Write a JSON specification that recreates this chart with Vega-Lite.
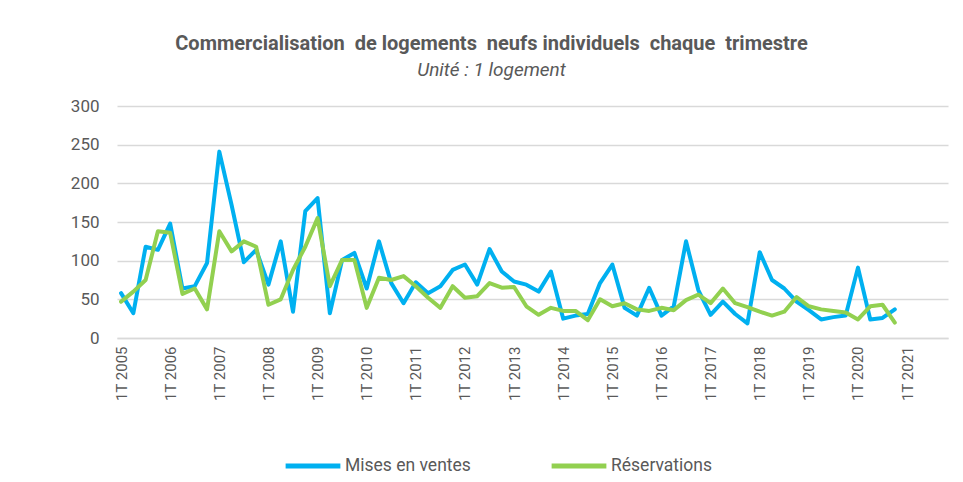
{
  "$schema": "https://vega.github.io/schema/vega-lite/v6.json",
  "autosize": {"type": "none"},
  "width": 831,
  "height": 232,
  "padding": {"left": 117, "top": 106, "right": 15, "bottom": 144},
  "background": "white",
  "config": {"view": {"stroke": null}},
  "title": {
    "text": "Commercialisation\u00a0 de logements\u00a0 neufs individuels\u00a0 chaque\u00a0 trimestre",
    "subtitle": "Unité : 1 logement",
    "anchor": "middle",
    "frame": "group",
    "dx": -41,
    "offset": 17,
    "font": "Roboto",
    "fontSize": 20,
    "fontWeight": "bold",
    "color": "#595959",
    "subtitleFont": "Roboto",
    "subtitleFontSize": 19,
    "subtitleFontStyle": "italic",
    "subtitleColor": "#595959",
    "subtitlePadding": 7
  },
  "data": {"values": [
    {"t": "1T 2005", "Mises en ventes": 58, "Réservations": 47},
    {"t": "2T 2005", "Mises en ventes": 32, "Réservations": 60},
    {"t": "3T 2005", "Mises en ventes": 118, "Réservations": 75},
    {"t": "4T 2005", "Mises en ventes": 114, "Réservations": 138},
    {"t": "1T 2006", "Mises en ventes": 148, "Réservations": 136},
    {"t": "2T 2006", "Mises en ventes": 64, "Réservations": 57},
    {"t": "3T 2006", "Mises en ventes": 67, "Réservations": 64},
    {"t": "4T 2006", "Mises en ventes": 97, "Réservations": 37},
    {"t": "1T 2007", "Mises en ventes": 241, "Réservations": 138},
    {"t": "2T 2007", "Mises en ventes": 172, "Réservations": 112},
    {"t": "3T 2007", "Mises en ventes": 98, "Réservations": 125},
    {"t": "4T 2007", "Mises en ventes": 114, "Réservations": 118},
    {"t": "1T 2008", "Mises en ventes": 69, "Réservations": 43},
    {"t": "2T 2008", "Mises en ventes": 125, "Réservations": 50},
    {"t": "3T 2008", "Mises en ventes": 34, "Réservations": 88},
    {"t": "4T 2008", "Mises en ventes": 164, "Réservations": 118},
    {"t": "1T 2009", "Mises en ventes": 181, "Réservations": 155},
    {"t": "2T 2009", "Mises en ventes": 32, "Réservations": 67},
    {"t": "3T 2009", "Mises en ventes": 101, "Réservations": 101},
    {"t": "4T 2009", "Mises en ventes": 110, "Réservations": 101},
    {"t": "1T 2010", "Mises en ventes": 64, "Réservations": 39},
    {"t": "2T 2010", "Mises en ventes": 125, "Réservations": 78},
    {"t": "3T 2010", "Mises en ventes": 71, "Réservations": 75},
    {"t": "4T 2010", "Mises en ventes": 45, "Réservations": 80},
    {"t": "1T 2011", "Mises en ventes": 72, "Réservations": 67},
    {"t": "2T 2011", "Mises en ventes": 58, "Réservations": 52},
    {"t": "3T 2011", "Mises en ventes": 67, "Réservations": 39},
    {"t": "4T 2011", "Mises en ventes": 88, "Réservations": 67},
    {"t": "1T 2012", "Mises en ventes": 95, "Réservations": 52},
    {"t": "2T 2012", "Mises en ventes": 69, "Réservations": 54},
    {"t": "3T 2012", "Mises en ventes": 115, "Réservations": 71},
    {"t": "4T 2012", "Mises en ventes": 86, "Réservations": 65},
    {"t": "1T 2013", "Mises en ventes": 73, "Réservations": 66},
    {"t": "2T 2013", "Mises en ventes": 69, "Réservations": 41},
    {"t": "3T 2013", "Mises en ventes": 60, "Réservations": 30},
    {"t": "4T 2013", "Mises en ventes": 86, "Réservations": 39},
    {"t": "1T 2014", "Mises en ventes": 25, "Réservations": 35},
    {"t": "2T 2014", "Mises en ventes": 29, "Réservations": 35},
    {"t": "3T 2014", "Mises en ventes": 31, "Réservations": 23},
    {"t": "4T 2014", "Mises en ventes": 71, "Réservations": 50},
    {"t": "1T 2015", "Mises en ventes": 95, "Réservations": 41},
    {"t": "2T 2015", "Mises en ventes": 39, "Réservations": 45},
    {"t": "3T 2015", "Mises en ventes": 29, "Réservations": 37},
    {"t": "4T 2015", "Mises en ventes": 65, "Réservations": 35},
    {"t": "1T 2016", "Mises en ventes": 29, "Réservations": 39},
    {"t": "2T 2016", "Mises en ventes": 41, "Réservations": 36},
    {"t": "3T 2016", "Mises en ventes": 125, "Réservations": 49},
    {"t": "4T 2016", "Mises en ventes": 62, "Réservations": 56},
    {"t": "1T 2017", "Mises en ventes": 30, "Réservations": 45},
    {"t": "2T 2017", "Mises en ventes": 47, "Réservations": 64},
    {"t": "3T 2017", "Mises en ventes": 31, "Réservations": 45},
    {"t": "4T 2017", "Mises en ventes": 19, "Réservations": 40},
    {"t": "1T 2018", "Mises en ventes": 111, "Réservations": 34},
    {"t": "2T 2018", "Mises en ventes": 75, "Réservations": 29},
    {"t": "3T 2018", "Mises en ventes": 64, "Réservations": 34},
    {"t": "4T 2018", "Mises en ventes": 47, "Réservations": 53},
    {"t": "1T 2019", "Mises en ventes": 36, "Réservations": 41},
    {"t": "2T 2019", "Mises en ventes": 24, "Réservations": 37},
    {"t": "3T 2019", "Mises en ventes": 27, "Réservations": 35},
    {"t": "4T 2019", "Mises en ventes": 29, "Réservations": 33},
    {"t": "1T 2020", "Mises en ventes": 91, "Réservations": 24},
    {"t": "2T 2020", "Mises en ventes": 24, "Réservations": 41},
    {"t": "3T 2020", "Mises en ventes": 26, "Réservations": 43},
    {"t": "4T 2020", "Mises en ventes": 37, "Réservations": 20}
  ]},
  "transform": [
    {"fold": ["Mises en ventes", "Réservations"], "as": ["serie", "valeur"]}
  ],
  "mark": {"type": "line", "strokeWidth": 4, "strokeJoin": "round", "strokeCap": "round"},
  "encoding": {
    "x": {
      "field": "t",
      "type": "ordinal",
      "sort": null,
      "scale": {
        "type": "point",
        "padding": 0.33,
        "domain": ["1T 2005","2T 2005","3T 2005","4T 2005","1T 2006","2T 2006","3T 2006","4T 2006","1T 2007","2T 2007","3T 2007","4T 2007","1T 2008","2T 2008","3T 2008","4T 2008","1T 2009","2T 2009","3T 2009","4T 2009","1T 2010","2T 2010","3T 2010","4T 2010","1T 2011","2T 2011","3T 2011","4T 2011","1T 2012","2T 2012","3T 2012","4T 2012","1T 2013","2T 2013","3T 2013","4T 2013","1T 2014","2T 2014","3T 2014","4T 2014","1T 2015","2T 2015","3T 2015","4T 2015","1T 2016","2T 2016","3T 2016","4T 2016","1T 2017","2T 2017","3T 2017","4T 2017","1T 2018","2T 2018","3T 2018","4T 2018","1T 2019","2T 2019","3T 2019","4T 2019","1T 2020","2T 2020","3T 2020","4T 2020","1T 2021","2T 2021","3T 2021","4T 2021"]
      },
      "axis": {
        "title": null,
        "labelExpr": "slice(datum.value, 0, 2) == '1T' ? datum.value : ''",
        "labelAngle": 270,
        "labelOverlap": false,
        "labelFont": "Roboto",
        "labelFontSize": 15,
        "labelColor": "#595959",
        "labelPadding": 8,
        "ticks": false,
        "grid": false,
        "domain": true,
        "domainColor": "#d9d9d9",
        "domainWidth": 1.5
      }
    },
    "y": {
      "field": "valeur",
      "type": "quantitative",
      "scale": {"domain": [0, 300], "nice": false},
      "axis": {
        "title": null,
        "values": [0, 50, 100, 150, 200, 250, 300],
        "labelFont": "Roboto",
        "labelFontSize": 17,
        "labelColor": "#595959",
        "labelPadding": 18,
        "ticks": false,
        "domain": false,
        "gridColor": "#d9d9d9",
        "gridWidth": 1.5
      }
    },
    "color": {
      "field": "serie",
      "type": "nominal",
      "scale": {"domain": ["Mises en ventes", "Réservations"], "range": ["#00B0F0", "#92D050"]},
      "legend": {
        "title": null,
        "orient": "none",
        "direction": "horizontal",
        "legendX": 166,
        "legendY": 330,
        "symbolType": "stroke",
        "symbolSize": 3000,
        "symbolStrokeWidth": 5,
        "labelFont": "Roboto",
        "labelFontSize": 17.5,
        "labelColor": "#595959",
        "labelOffset": 2,
        "columnPadding": 70,
        "labelLimit": 300
      }
    }
  }
}
